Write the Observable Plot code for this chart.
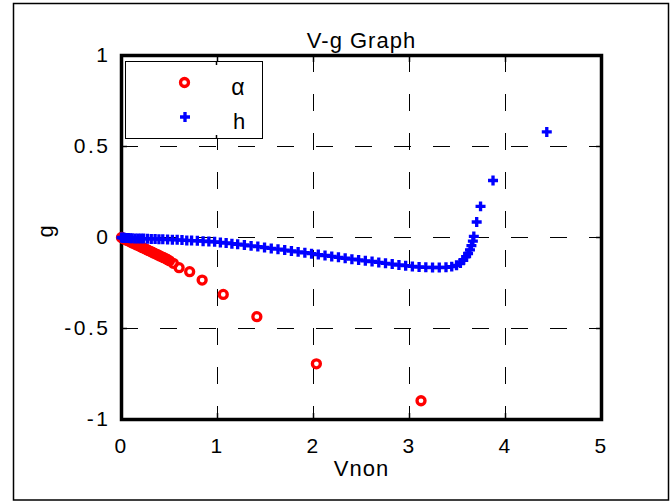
<!DOCTYPE html>
<html><head><meta charset="utf-8">
<script src="https://cdn.jsdelivr.net/npm/d3@7"></script>
<script src="https://cdn.jsdelivr.net/npm/@observablehq/plot@0.6"></script>
<style>body{margin:0;background:#fff;}</style>
</head><body><div id="chart"></div>
<script>
// Series α (red circles)
const alphaV = [0, 0.015, 0.03, 0.045, 0.06, 0.08, 0.10, 0.12, 0.14, 0.16, 0.18, 0.20, 0.22, 0.24, 0.26, 0.28, 0.30, 0.32, 0.34, 0.36, 0.38, 0.40, 0.42, 0.44, 0.46, 0.48, 0.50, 0.54, 0.60, 0.71, 0.84, 1.06, 1.41, 2.03, 3.12];
const alphaG = [0, -0.004, -0.008, -0.012, -0.016, -0.021, -0.026, -0.031, -0.036, -0.041, -0.046, -0.051, -0.056, -0.061, -0.066, -0.071, -0.076, -0.081, -0.086, -0.091, -0.096, -0.101, -0.106, -0.111, -0.116, -0.122, -0.128, -0.142, -0.166, -0.188, -0.234, -0.313, -0.435, -0.694, -0.897];
// Series h (blue plus)
const hV = [0, 0.01, 0.02, 0.03, 0.05, 0.07, 0.09, 0.11, 0.14, 0.17, 0.20, 0.23, 0.27, 0.31, 0.35, 0.39, 0.43, 0.48, 0.53, 0.58, 0.63, 0.68, 0.73, 0.79, 0.85, 0.91, 0.97, 1.03, 1.09, 1.15, 1.21, 1.28, 1.35, 1.42, 1.49, 1.56, 1.63, 1.70, 1.77, 1.84, 1.91, 1.98, 2.05, 2.12, 2.19, 2.26, 2.33, 2.40, 2.47, 2.54, 2.61, 2.68, 2.75, 2.82, 2.89, 2.96, 3.03, 3.10, 3.17, 3.24, 3.31, 3.38, 3.44, 3.49, 3.53, 3.56, 3.59, 3.61, 3.63, 3.645, 3.66, 3.67, 3.70, 3.74, 3.87, 4.43];
const hG = [0, -0.001, -0.002, -0.002, -0.003, -0.003, -0.004, -0.004, -0.005, -0.005, -0.006, -0.006, -0.007, -0.008, -0.008, -0.009, -0.010, -0.011, -0.012, -0.013, -0.014, -0.016, -0.017, -0.018, -0.020, -0.022, -0.024, -0.027, -0.030, -0.034, -0.037, -0.041, -0.046, -0.050, -0.055, -0.060, -0.064, -0.069, -0.074, -0.079, -0.084, -0.089, -0.094, -0.099, -0.104, -0.109, -0.114, -0.119, -0.123, -0.128, -0.132, -0.137, -0.142, -0.146, -0.151, -0.155, -0.159, -0.162, -0.164, -0.165, -0.165, -0.164, -0.160, -0.153, -0.140, -0.125, -0.105, -0.088, -0.068, -0.045, -0.020, 0.006, 0.085, 0.171, 0.313, 0.58];

const xTicks = [0, 1, 2, 3, 4, 5];
const yTicks = [-1, -0.5, 0, 0.5, 1];
const xInner = [1, 2, 3, 4];
const yInner = [-0.5, 0, 0.5];
const titleText = "V-g Graph";
const xLabel = "Vnon";
const yLabel = "g";
const legendLabels = ["α", "h"];

const alphaData = alphaV.map((v, i) => ({v, g: alphaG[i]}));
const hData = hV.map((v, i) => ({v, g: hG[i]}));

const font = "'Liberation Sans', Arial, sans-serif";
const fmt = d => String(d);
const blank = () => "";
const gridStyle = {stroke: "black", strokeOpacity: 1, strokeWidth: 1, strokeDasharray: "17,22"};
const tickStyle = {tickSize: -6, tickFormat: blank, label: null, strokeWidth: 1.5};
const circleR = 4, plusR = 4.2;

const plot = Plot.plot({
  width: 672, height: 503,
  marginLeft: 121, marginRight: 71, marginTop: 55, marginBottom: 84,
  style: {fontFamily: font, background: "white", color: "black", overflow: "visible"},
  x: {domain: [0, 5], label: null},
  y: {domain: [-1, 1], label: null},
  marks: [
    Plot.gridX(xInner, gridStyle),
    Plot.gridY(yInner, gridStyle),
    Plot.axisX(xTicks, {anchor: "bottom", tickSize: 0, tickPadding: 19, fontSize: 21, tickFormat: fmt, label: null}),
    Plot.axisY(yTicks, {anchor: "left", tickSize: 0, tickPadding: 11, fontSize: 21, tickFormat: fmt, label: null}),
    Plot.axisX(xInner, {anchor: "bottom", ...tickStyle}),
    Plot.axisX(xInner, {anchor: "top", ...tickStyle}),
    Plot.axisY(yInner, {anchor: "left", ...tickStyle}),
    Plot.axisY(yInner, {anchor: "right", ...tickStyle}),
    Plot.frame({stroke: "black", strokeWidth: 3.5}),
    Plot.dot(alphaData, {x: "v", y: "g", r: circleR, stroke: "#ff0000", strokeWidth: 3.3, fill: "none"}),
    Plot.dot(hData, {x: "v", y: "g", r: plusR, symbol: "cross", fill: "#0000ff", stroke: "none"}),
    Plot.text([titleText], {frameAnchor: "top", dy: -23, fontSize: 22}),
    Plot.text([xLabel], {frameAnchor: "bottom", dy: 56, fontSize: 22}),
    Plot.text([yLabel], {frameAnchor: "left", dx: -76, rotate: -90, fontSize: 22})
  ]
});

const svg = d3.select(plot);
// spacing of the text, as in the reference rendering
svg.selectAll('g[aria-label="x-axis tick label"] text, g[aria-label="y-axis tick label"] text').attr("letter-spacing", 2.5);
svg.selectAll('g[aria-label="text"] text').attr("letter-spacing", 1);
// outer figure border
svg.append("rect").attr("x", 13.5).attr("y", 3.5).attr("width", 655).attr("height", 496.5)
  .attr("fill", "none").attr("stroke", "black").attr("stroke-width", 1.5);
// legend
const lg = svg.append("g");
lg.append("rect").attr("x", 125.5).attr("y", 61.5).attr("width", 137).attr("height", 77)
  .attr("fill", "white").attr("stroke", "black").attr("stroke-width", 1);
lg.append("line").attr("x1", 216.5).attr("x2", 216.5).attr("y1", 61.5).attr("y2", 65).attr("stroke", "black").attr("stroke-width", 1.5);
lg.append("line").attr("x1", 216.5).attr("x2", 216.5).attr("y1", 135).attr("y2", 138.5).attr("stroke", "black").attr("stroke-width", 1.5);
lg.append("circle").attr("cx", 184.5).attr("cy", 82.5).attr("r", circleR)
  .attr("fill", "none").attr("stroke", "#ff0000").attr("stroke-width", 3.3);
lg.append("path").attr("transform", "translate(185,117)")
  .attr("d", d3.symbol(d3.symbolCross, Math.PI * plusR * plusR)()).attr("fill", "#0000ff");
lg.append("text").attr("x", 238).attr("y", 95).attr("font-size", 23).attr("font-family", font).text(legendLabels[0]);
lg.append("text").attr("x", 239).attr("y", 129).attr("font-size", 22).attr("font-family", font).text(legendLabels[1]);

document.getElementById("chart").append(plot);
</script>
</body></html>
